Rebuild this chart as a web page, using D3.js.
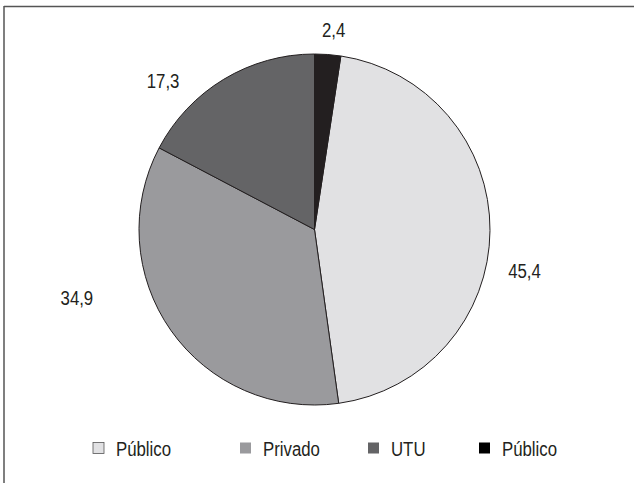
<!DOCTYPE html>
<html lang="es">
    <head>
        <meta charset="utf-8">
        <title>Pie chart</title>
        <script type="text/javascript" src="https://d3js.org/d3.v7.min.js"></script>
        <style type="text/css">
            body { margin: 0; background: white; }
            text {
                font-family: "Liberation Sans", Arial, sans-serif;
                fill: #231f20;
            }
        </style>
    </head>

    <body>
    <script type="text/javascript">

            const width = 634;
            const height = 483;

            // data
            const categories = ["Público", "Privado", "UTU", "Público"];
            const values = [45.4, 34.9, 17.3, 2.4];
            const labels = ["45,4", "34,9", "17,3", "2,4"];
            const colors = ["#e1e1e3", "#9a9a9d", "#646466", "#231f20"];
            const legendColors = ["#e1e1e3", "#9a9a9d", "#646466", "#000000"];

            const cx = 314.5, cy = 229.5, radius = 175.5;
            const squeeze = 0.8;   // fake a condensed face
            const fontSize = "21px";

            const svg = d3.select("body")
                        .append("svg")
                        .attr("width", width)
                        .attr("height", height);

            // frame (top and left edges only, as in the cropped original)
            svg.append("line")
                .attr("x1", 4).attr("x2", width).attr("y1", 6.5).attr("y2", 6.5)
                .attr("stroke", "#555").attr("stroke-width", 1.5);
            svg.append("line")
                .attr("x1", 4).attr("x2", 4).attr("y1", 6).attr("y2", height)
                .attr("stroke", "#555").attr("stroke-width", 1.5);

            // black slice starts at 12 o'clock, then the rest clockwise
            const order = [3, 0, 1, 2];
            const pie = d3.pie()
                        .sort((a, b) => order.indexOf(a.i) - order.indexOf(b.i))
                        .value(d => d.v);
            const arcs = pie(values.map((v, i) => ({v: v, i: i})));

            const arc = d3.arc().innerRadius(0).outerRadius(radius);

            const g = svg.append("g").attr("transform", `translate(${cx},${cy})`);

            g.selectAll("path")
                .data(arcs)
                .enter()
                .append("path")
                .attr("d", arc)
                .attr("fill", d => colors[d.data.i])
                .attr("stroke", "#231f20")
                .attr("stroke-width", 1);

            // labels: radial position plus hand nudges like the original
            const labelR = 200;
            const nudge = [[10, 40], [-74, -47], [-48, 22], [4, -1]];
            g.selectAll("text.lbl")
                .data(arcs)
                .enter()
                .append("text")
                .attr("class", "lbl")
                .attr("transform", d => {
                    const a = (d.startAngle + d.endAngle) / 2;
                    const x = labelR * Math.sin(a) + nudge[d.data.i][0];
                    const y = -labelR * Math.cos(a) + nudge[d.data.i][1];
                    return `translate(${x},${y}) scale(${squeeze},1)`;
                })
                .attr("dy", "0.36em")
                .attr("text-anchor", "middle")
                .attr("font-size", fontSize)
                .text(d => labels[d.data.i]);

            // legend
            const box = 11, gap = 12;
            const legendX = [93, 240, 368, 479];
            const legend = svg.append("g").attr("transform", "translate(0,448)");
            categories.forEach((c, i) => {
                const item = legend.append("g").attr("transform", `translate(${legendX[i]},0)`);
                item.append("rect")
                    .attr("x", 0).attr("y", -box / 2)
                    .attr("width", box).attr("height", box)
                    .attr("fill", legendColors[i])
                    .attr("stroke", i === 0 ? "#555" : "none")
                    .attr("stroke-width", 0.8);
                item.append("text")
                    .attr("transform", `translate(${box + gap},0) scale(${squeeze},1)`)
                    .attr("dy", "0.36em")
                    .attr("font-size", fontSize)
                    .text(c);
            });

    </script>
    </body>
</html>
